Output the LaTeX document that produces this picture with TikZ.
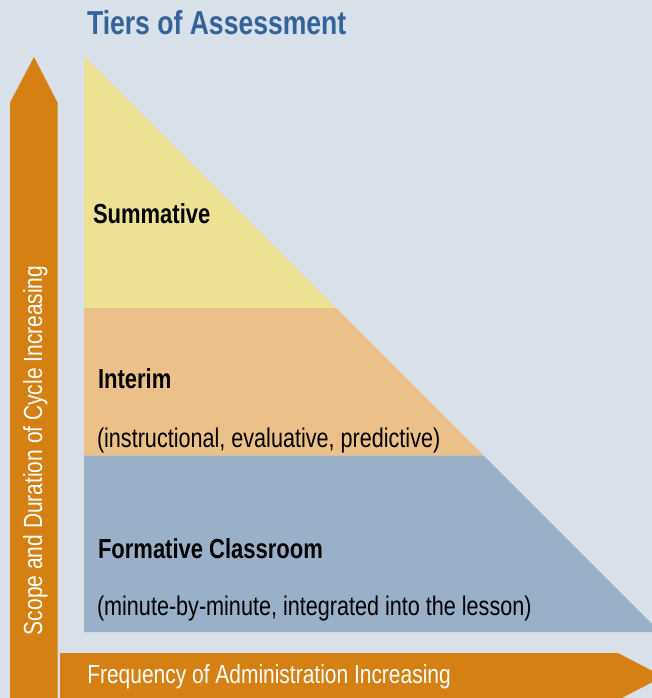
\documentclass[tikz,border=0pt]{standalone}
\usepackage{fontspec}
\setmainfont{Liberation Sans}[FakeStretch=0.8]
\definecolor{bgc}{HTML}{D8E0EA}
\definecolor{arrc}{HTML}{D58012}
\definecolor{yelc}{HTML}{EDE294}
\definecolor{orac}{HTML}{EBC189}
\definecolor{bluc}{HTML}{9AB0C9}
\definecolor{titc}{HTML}{34629A}
\begin{document}
\begin{tikzpicture}[x=1pt,y=-1pt,
  lbl/.style={anchor=base west, inner sep=0pt, outer sep=0pt},
  head/.style={lbl, font=\fontsize{27.5}{32}\selectfont\bfseries, text=black},
  sub/.style={lbl, font=\fontsize{27}{32}\selectfont, text=black},
  axl/.style={lbl, font=\fontsize{26.2}{31}\selectfont, text=white}]
\path[use as bounding box] (0,0) rectangle (652,698);
\begin{scope}
\clip (0,0) rectangle (652,698);
\fill[bgc] (0,0) rectangle (652,698);
\fill[arrc] (10,700) -- (10,102.5) -- (34,57) -- (57.5,102.5) -- (57.5,700) -- cycle;
\fill[arrc] (60,653) -- (618,653) -- (663,676.5) -- (618,700) -- (60,700) -- cycle;
\fill[yelc] (84,56) -- (336,308) -- (84,308) -- cycle;
\fill[orac] (84,308) -- (336,308) -- (483.7,455.7) -- (84,455.7) -- cycle;
\fill[bluc] (84,455.7) -- (483.7,455.7) -- (660,632) -- (84,632) -- cycle;
\end{scope}
\node[lbl, font=\fontsize{33.2}{38}\selectfont\bfseries, text=titc] (title) at (87,34.3) {Tiers of Assessment};
\node[head] (summ) at (93,223) {Summative};
\node[head] (inter) at (98,388.3) {Interim};
\node[sub] (intersub) at (97,447) {(instructional, evaluative, predictive)};
\node[head] (form) at (98,558.3) {Formative Classroom};
\node[sub] (formsub) at (97,615) {(minute-by-minute, integrated into the lesson)};
\node[axl, rotate=90] (vlab) at (42,635) {Scope and Duration of Cycle Increasing};
\node[axl] (hlab) at (87.3,683.3) {Frequency of Administration Increasing};
\end{tikzpicture}
\end{document}
